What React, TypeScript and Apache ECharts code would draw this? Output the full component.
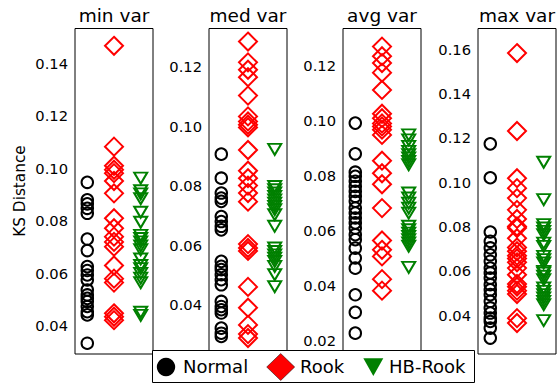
import React, { useEffect, useRef } from "react";
import * as echarts from "echarts";

const panelTitles = ["min var", "med var", "avg var", "max var"];
const seriesNames = ["Normal", "Rook", "HB-Rook"];

const normalMin = [0.0947, 0.088, 0.0865, 0.0848, 0.0829, 0.0731, 0.0687, 0.0626, 0.0611, 0.0594, 0.0575, 0.0537, 0.0518, 0.0505, 0.0493, 0.0474, 0.0454, 0.0442, 0.0334];
const rookMin = [0.1467, 0.1083, 0.101, 0.0995, 0.0982, 0.0952, 0.0905, 0.081, 0.0772, 0.074, 0.072, 0.0702, 0.063, 0.058, 0.0565, 0.0448, 0.0435, 0.0422];
const hbRookMin = [0.0963, 0.0915, 0.0903, 0.0885, 0.0833, 0.0795, 0.0745, 0.0733, 0.072, 0.0705, 0.069, 0.0655, 0.063, 0.0618, 0.06, 0.0582, 0.0565, 0.0452, 0.044];

const normalMed = [0.0906, 0.0825, 0.0775, 0.0758, 0.0747, 0.0696, 0.0679, 0.0663, 0.0651, 0.0545, 0.0528, 0.0517, 0.05, 0.0483, 0.0466, 0.041, 0.0393, 0.0382, 0.0371, 0.032, 0.0303, 0.0292];
const rookMed = [0.1285, 0.1215, 0.119, 0.1165, 0.1103, 0.1033, 0.1016, 0.1005, 0.0996, 0.092, 0.085, 0.0825, 0.08, 0.0775, 0.0746, 0.0603, 0.059, 0.058, 0.0459, 0.0389, 0.0331, 0.03, 0.0287];
const hbRookMed = [0.0922, 0.0797, 0.0786, 0.0775, 0.0764, 0.0752, 0.0741, 0.073, 0.0719, 0.0702, 0.0663, 0.059, 0.0578, 0.0567, 0.0556, 0.0545, 0.0528, 0.05, 0.046];

const normalAvg = [0.0991, 0.0879, 0.0812, 0.0797, 0.0779, 0.076, 0.0742, 0.0724, 0.0706, 0.0681, 0.0663, 0.0645, 0.0627, 0.0608, 0.0584, 0.0566, 0.0535, 0.0499, 0.0462, 0.0365, 0.0301, 0.0225];
const rookAvg = [0.127, 0.1235, 0.121, 0.1175, 0.1112, 0.1025, 0.1009, 0.099, 0.0979, 0.0967, 0.0948, 0.0854, 0.0808, 0.0768, 0.0681, 0.0563, 0.0529, 0.0505, 0.0422, 0.038];
const hbRookAvg = [0.0948, 0.093, 0.0906, 0.0888, 0.0876, 0.0864, 0.0851, 0.0839, 0.0736, 0.0718, 0.0699, 0.0681, 0.0663, 0.0615, 0.0602, 0.059, 0.0578, 0.0566, 0.0554, 0.0542, 0.0465];

const normalMax = [0.1173, 0.102, 0.0775, 0.0733, 0.0703, 0.0672, 0.0643, 0.0612, 0.059, 0.0567, 0.0537, 0.0514, 0.0492, 0.0462, 0.0432, 0.0409, 0.0386, 0.0371, 0.0341, 0.0296];
const rookMax = [0.1583, 0.1231, 0.1018, 0.0973, 0.0928, 0.0875, 0.0834, 0.08, 0.0793, 0.0747, 0.0705, 0.0688, 0.0668, 0.0655, 0.0638, 0.0612, 0.0582, 0.054, 0.0528, 0.051, 0.0495, 0.0386, 0.0364];
const hbRookMax = [0.109, 0.0921, 0.0808, 0.0793, 0.0778, 0.0763, 0.0725, 0.071, 0.0665, 0.065, 0.0635, 0.0597, 0.059, 0.0575, 0.056, 0.0522, 0.0507, 0.0492, 0.0477, 0.0462, 0.0447, 0.0375];

const yMins = [0.0293, 0.0233, 0.0149, 0.0224];
const yMaxs = [0.1533, 0.1329, 0.1336, 0.1694];

const panelData = [
  [normalMin, rookMin, hbRookMin],
  [normalMed, rookMed, hbRookMed],
  [normalAvg, rookAvg, hbRookAvg],
  [normalMax, rookMax, hbRookMax],
];

const FONT = "DejaVu Sans";
const colors = ["#000000", "#ff0000", "#008000"];

export default function App() {
  const ref = useRef<HTMLDivElement>(null);
  useEffect(() => {
    if (!ref.current) return;
    const chart = echarts.init(ref.current, undefined, { renderer: "svg" });
    const lefts = [75, 209, 343, 478];
    const gridW = 78;
    const top = 28.5;
    const height = 325.5;

    const grid = lefts.map((l) => ({
      left: l,
      top,
      width: gridW,
      height,
      show: true,
      borderColor: "#000",
      borderWidth: 1,
      backgroundColor: "transparent",
    }));
    const xAxis = lefts.map((_, i) => ({
      type: "value",
      gridIndex: i,
      min: -0.46,
      max: 2.46,
      show: false,
    }));
    const yAxis = lefts.map((_, i) => ({
      type: "value",
      gridIndex: i,
      min: yMins[i],
      max: yMaxs[i],
      minInterval: 0.02,
      maxInterval: 0.02,
      axisLine: { show: false },
      axisTick: { show: false },
      splitLine: { show: false },
      axisLabel: {
        show: true,
        showMinLabel: false,
        showMaxLabel: false,
        margin: 7,
        color: "#000",
        fontSize: 14.7,
        fontFamily: FONT,
        formatter: (v: number) => v.toFixed(2),
      },
    }));

    const symbols = ["circle", "diamond", "triangle"];
    const sizes: any[] = [11.5, 18, [13, 11]];
    const series: any[] = [];
    panelData.forEach((groups, pi) => {
      groups.forEach((vals, si) => {
        series.push({
          type: "scatter",
          name: seriesNames[si],
          xAxisIndex: pi,
          yAxisIndex: pi,
          symbol: symbols[si],
          symbolSize: sizes[si],
          symbolRotate: si === 2 ? 180 : 0,
          silent: true,
          clip: false,
          itemStyle: {
            color: "transparent",
            borderColor: colors[si],
            borderWidth: 2,
            opacity: 1,
          },
          data: vals.map((v) => [si, v]),
        });
      });
    });

    const graphic: any[] = [];
    lefts.forEach((l, i) => {
      graphic.push({
        type: "text",
        x: l + gridW / 2,
        y: 15.5,
        style: {
          text: panelTitles[i],
          font: `18.5px "${FONT}"`,
          fill: "#000",
          textAlign: "center",
          textVerticalAlign: "middle",
        },
      });
    });
    graphic.push({
      type: "text",
      x: 19.5,
      y: 191,
      rotation: Math.PI / 2,
      style: {
        text: "KS Distance",
        font: `15.3px "${FONT}"`,
        fill: "#000",
        textAlign: "center",
        textVerticalAlign: "middle",
      },
    });
    // legend
    const ly = 367;
    graphic.push({
      type: "group",
      z: 100,
      children: [
        {
          type: "rect",
          shape: { x: 152.5, y: 350.5, width: 322, height: 32 },
          style: { fill: "#fff", stroke: "#000", lineWidth: 1 },
        },
        {
          type: "circle",
          shape: { cx: 166, cy: ly, r: 9.2 },
          style: { fill: colors[0] },
        },
        {
          type: "polygon",
          shape: {
            points: [
              [280.7, ly - 13.5],
              [294.7, ly],
              [280.7, ly + 13.5],
              [266.7, ly],
            ],
          },
          style: { fill: colors[1], stroke: "#000", lineWidth: 0.5 },
        },
        {
          type: "polygon",
          shape: {
            points: [
              [363.3, ly - 8.7],
              [383.3, ly - 8.7],
              [373.3, ly + 9],
            ],
          },
          style: { fill: colors[2] },
        },
        ...[
          [seriesNames[0], 183],
          [seriesNames[1], 300],
          [seriesNames[2], 389],
        ].map(([t, x]) => ({
          type: "text",
          x: x as number,
          y: ly - 0.5,
          style: {
            text: t as string,
            font: `18px "${FONT}"`,
            fill: "#000",
            textAlign: "left",
            textVerticalAlign: "middle",
          },
        })),
      ],
    });

    chart.setOption({
      animation: false,
      backgroundColor: "#fff",
      textStyle: { fontFamily: FONT },
      grid,
      xAxis,
      yAxis,
      series,
      graphic,
    });
    return () => chart.dispose();
  }, []);
  return (
    <div
      ref={ref}
      style={{ position: "fixed", left: 0, top: 0, width: 558, height: 384 }}
    />
  );
}
